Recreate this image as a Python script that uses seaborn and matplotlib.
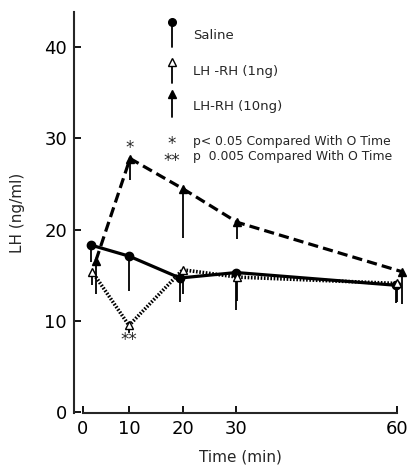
import matplotlib
matplotlib.use("Agg")
import matplotlib.pyplot as plt
import numpy as np
import pandas as pd
import seaborn as sns

# values (time in min, LH in ng/ml, lower error bar length)
saline_t = [1.8, 10, 19.5, 30, 59.8]
saline_lh = [18.3, 17.1, 14.7, 15.3, 13.9]
saline_err = [1.9, 3.8, 2.6, 4.1, 1.9]

ng1_t = [2.0, 10, 20, 30.2, 60]
ng1_lh = [15.4, 9.5, 15.6, 14.8, 14.1]
ng1_err = [1.5, 0.8, 2.6, 2.6, 2.0]

ng10_t = [2.8, 10.2, 20, 30.2, 60.8]
ng10_lh = [16.6, 27.8, 24.5, 20.8, 15.4]
ng10_err = [3.6, 2.4, 5.4, 1.8, 3.5]

x_ticks = [0, 10, 20, 30, 60]
y_ticks = [0, 10, 20, 30, 40]

sig_one = (10.2, 29.0, "*")
sig_two = (10, 7.9, "**")

df = pd.DataFrame({
    "time": saline_t + ng1_t + ng10_t,
    "LH": saline_lh + ng1_lh + ng10_lh,
    "err": saline_err + ng1_err + ng10_err,
    "group": ["Saline"] * 5 + ["LH-RH (1ng)"] * 5 + ["LH-RH (10ng)"] * 5,
})
labels = {"Saline": "Saline", "LH-RH (1ng)": "LH -RH (1ng)", "LH-RH (10ng)": "LH-RH (10ng)"}

sns.set_style("ticks")
plt.rcParams["font.family"] = ["DejaVu Sans"]

fig = plt.figure(figsize=(4.11, 4.65), dpi=100)
ax = fig.add_axes([0.180, 0.1118, 0.8078, 0.8624])

# the time axis is stretched: 0-10 is shorter than the later decades
knots_min = [-50, 0, 10, 100]
knots_px = [-230, 0, 46, 46 + 90 * 5.37]
ax.set_xscale("function", functions=(lambda v: np.interp(v, knots_min, knots_px),
                                     lambda v: np.interp(v, knots_px, knots_min)))

styles = {
    "Saline": dict(marker="o", markerfacecolor="black", linestyle="-", lw=2.3, markersize=6),
    "LH-RH (1ng)": dict(marker="^", markerfacecolor="white", linestyle=(0, (0.45, 0.45)), lw=2.6, markersize=6),
    "LH-RH (10ng)": dict(marker="^", markerfacecolor="black", linestyle=(0, (3.2, 1.6)), lw=2.3, markersize=6),
}

for name, st in styles.items():
    sub = df[df["group"] == name]
    ax.vlines(sub["time"], sub["LH"] - sub["err"], sub["LH"], color="black", lw=1.3, zorder=2)
    sns.lineplot(data=sub, x="time", y="LH", ax=ax, color="black", markeredgecolor="black",
                 markeredgewidth=1.0, zorder=3, **st)

for xv, yv, s in [sig_one, sig_two]:
    ax.text(xv, yv, s, ha="center", va="center", fontsize=12)

# legend drawn by hand: marker on top of a short stem
leg_x, txt_x = 0.296, 0.358
for (name, st), (ym, yb, yt) in zip(styles.items(),
                                    [(0.974, 0.913, 0.941), (0.876, 0.822, 0.851), (0.795, 0.739, 0.764)]):
    ax.plot([leg_x, leg_x], [yb, ym], color="black", lw=1.3, transform=ax.transAxes, clip_on=False)
    ax.plot([leg_x], [ym], marker=st["marker"], markerfacecolor=st["markerfacecolor"],
            markeredgecolor="black", markersize=5.5, transform=ax.transAxes, clip_on=False)
    ax.text(txt_x, yt, labels[name], transform=ax.transAxes, ha="left", va="center", fontsize=9.5)

ax.text(0.294, 0.650, "*\n**", transform=ax.transAxes, ha="center", va="center",
        multialignment="center", fontsize=12, linespacing=0.95)
ax.text(txt_x, 0.658, "p< 0.05 Compared With O Time\np  0.005 Compared With O Time",
        transform=ax.transAxes, ha="left", va="center", fontsize=8.9, linespacing=1.15)

ax.set_xlim(-1.96, 61.6)
ax.set_ylim(-0.1, 43.86)
ax.set_xticks(x_ticks)
ax.set_yticks(y_ticks)
ax.tick_params(direction="in", length=5, width=1.3, labelsize=13, pad=5, colors="black")
ax.spines["top"].set_visible(False)
ax.spines["right"].set_visible(False)
ax.spines["left"].set_linewidth(1.5)
ax.spines["bottom"].set_linewidth(1.5)
ax.spines["bottom"].set_bounds(0, 60)
ax.set_xlabel("Time (min)", fontsize=11, labelpad=8)
ax.set_ylabel("LH (ng/ml)", fontsize=11, labelpad=14)
if ax.get_legend() is not None:
    ax.get_legend().remove()

fig.savefig("out.png", dpi=100)
